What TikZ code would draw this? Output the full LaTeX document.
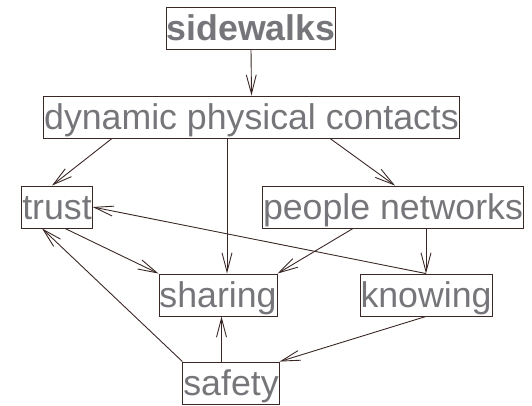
\documentclass[tikz,border=0pt]{standalone}
\usepackage{fontspec}
\setmainfont{Liberation Sans}
\usetikzlibrary{arrows.meta}
\definecolor{edgecol}{RGB}{58,40,38}
\definecolor{labelcol}{RGB}{118,118,122}
\begin{document}
\begin{tikzpicture}[x=1pt,y=-1pt,
    every node/.style={draw=edgecol,line width=0.9pt,text=labelcol,
      font=\fontsize{35.7}{40}\selectfont,inner xsep=0.5pt,inner ysep=0.5pt,
      text height=33pt,text depth=8pt}]
      \useasboundingbox (0,0) rectangle (532,406);
      \draw
        (251,28) node (sidewalks){\bfseries sidewalks}
        (251.5,117) node (contacts){dynamic physical contacts}
        (57,207) node (trust){trust}
        (393,207) node (networks){people networks}
        (218,295) node (sharing){sharing}
        (426,295) node (knowing){knowing}
        (231,383) node (safety){safety};
      \begin{scope}[draw=edgecol,line width=0.9pt,-{Straight Barb[length=19pt,width=10pt]}]
        \draw (sidewalks.south) to (contacts.north);
        \draw ([xshift=-139.5pt]contacts.south) to ([xshift=-5pt]trust.north);
        \draw ([xshift=-24.5pt]contacts.south) to ([xshift=9pt]sharing.north);
        \draw ([xshift=78.5pt]contacts.south) to ([xshift=2pt]networks.north);
        \draw ([xshift=8pt]trust.south) to (sharing.north west);
        \draw (knowing.north) to (trust.east);
        \draw ([xshift=-40pt]networks.south) to (sharing.north east);
        \draw ([xshift=33pt]networks.south) to (knowing.north);
        \draw (safety.north west) to ([xshift=-15pt]trust.south);
        \draw ([xshift=-9.5pt]safety.north) to ([xshift=3.5pt]sharing.south);
        \draw (knowing.south) to (safety.north east);
      \end{scope}
    \end{tikzpicture}
\end{document}
